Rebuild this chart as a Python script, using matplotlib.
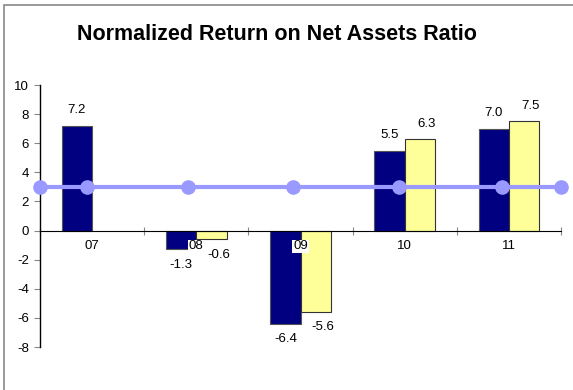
import numpy as np
import matplotlib.pyplot as plt
from matplotlib.patches import Rectangle

plt.rcParams['font.family'] = ['Liberation Sans', 'DejaVu Sans']
plt.rcParams['axes.unicode_minus'] = False

# Datos
years = ['07', '08', '09', '10', '11']
serie_a = [7.2, -1.3, -6.4, 5.5, 7.0]
serie_b = [np.nan, -0.6, -5.6, 6.3, 7.5]
linea_x = [-0.5, -0.05, 0.92, 1.93, 2.95, 3.93, 4.5]
linea_y = [3.0, 3.0, 3.0, 3.0, 3.0, 3.0, 3.0]

fig = plt.figure(figsize=(5.73, 3.9), dpi=100)
ax = fig.add_axes([40 / 573, 43 / 390, 521 / 573, 262 / 390])

x = np.arange(len(years))
w = 0.29
ax.bar(x - w / 2, serie_a, w, color='#000080', edgecolor='#555555', linewidth=0.8, zorder=2)
ax.bar(x + w / 2, serie_b, w, color='#FFFF99', edgecolor='#333333', linewidth=0.8, zorder=2)

# Linea de referencia
ax.plot(linea_x, linea_y, color='#9999FF', linewidth=3, marker='o', markersize=9.5,
        clip_on=False, zorder=4)

# Etiquetas de valores
for i in range(len(years)):
    for val, dx, sx in ((serie_a[i], -w / 2, 0), (serie_b[i], w / 2, 5)):
        if np.isnan(val):
            continue
        off = 11 if val >= 0 else -11
        ax.annotate(f'{val:.1f}', (x[i] + dx, val), xytext=(sx, off), textcoords='offset points',
                    ha='center', va='center', fontsize=9.5, zorder=5)

# Etiquetas de categoria junto al eje cero
for i, yr in enumerate(years):
    ax.annotate(yr, (x[i], 0), xytext=(0, -7), textcoords='offset points', ha='center', va='top',
                fontsize=9.5, zorder=5,
                bbox=dict(boxstyle='square,pad=0.05', facecolor='white', edgecolor='none'))

ax.set_xlim(-0.5, 4.5)
ax.set_ylim(-8, 10)
ax.set_yticks(range(-8, 11, 2))
ax.set_xticks(np.arange(-0.5, 4.6, 1))
ax.set_xticklabels([])
ax.tick_params(axis='y', direction='out', length=4, color='#888888', labelsize=9.5, pad=4)
ax.tick_params(axis='x', direction='inout', length=6, color='#888888', bottom=True)

ax.spines['top'].set_visible(False)
ax.spines['right'].set_visible(False)
ax.spines['bottom'].set_position(('data', 0))
ax.spines['bottom'].set_zorder(3)
ax.spines['left'].set_linewidth(1.0)

fig.text(277 / 573, 1 - 34 / 390, 'Normalized Return on Net Assets Ratio', ha='center', va='center',
         fontsize=15.5, fontweight='bold')

# Marco del grafico
fig.patches.append(Rectangle((4 / 573, -0.1), 1.1, 1 - 5 / 390 + 0.1, transform=fig.transFigure,
                             fill=False, edgecolor='#888888', linewidth=1.2))

fig.savefig('out.png', dpi=100)
